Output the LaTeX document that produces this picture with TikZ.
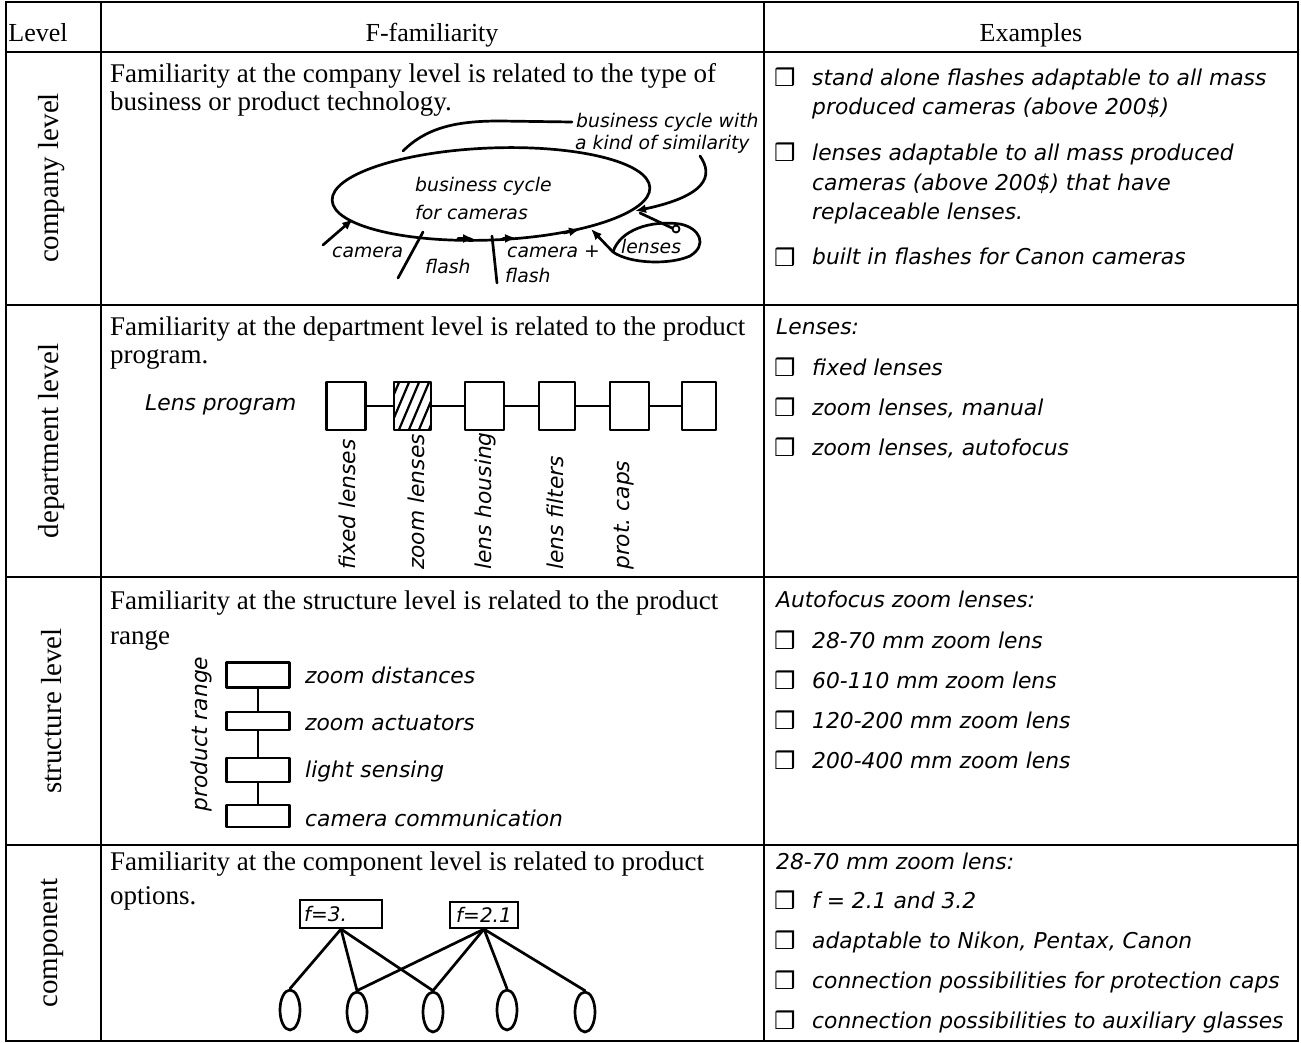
\documentclass[tikz,border=0pt]{standalone}
\usepackage{fontspec}
\setmainfont{Liberation Serif}
\newfontfamily\hwfont{DejaVu Sans}
\newfontfamily\symfont{DejaVu Sans}
\usetikzlibrary{arrows.meta,shapes.geometric}
\begin{document}
\begin{tikzpicture}[x=1pt,y=-1pt,
  tline/.style={line width=1.6pt},
  tnr/.style={font=\fontsize{27}{28}\selectfont, anchor=base west, inner sep=0pt},
  hdr/.style={font=\fontsize{26}{28}\selectfont, anchor=base, inner sep=0pt},
  lvl/.style={font=\fontsize{29}{30}\selectfont, rotate=90, inner sep=0pt},
  hw/.style={font=\hwfont\itshape\fontsize{21.8}{24}\selectfont, anchor=base west, inner sep=0pt},
  hws/.style={font=\hwfont\itshape\fontsize{18.8}{20}\selectfont, anchor=base west, inner sep=0pt},
  hwr/.style={font=\hwfont\itshape\fontsize{21.8}{24}\selectfont, rotate=90, anchor=west, inner sep=0pt},
  cbx/.style={font=\symfont\fontsize{24}{24}\selectfont, anchor=base west, inner sep=0pt},
  sk/.style={line width=2.7pt, line cap=round, line join=round},
  arr/.style={sk, -{Latex[length=11pt,width=9pt]}},
  pbox/.style={draw, sk, inner sep=0pt},
  fbox/.style={draw, line width=2.2pt, font=\hwfont\itshape\fontsize{20}{22}\selectfont, inner ysep=0pt},
  oval/.style={draw, sk, ellipse, minimum width=20pt, minimum height=40pt, inner sep=0pt},
]
\useasboundingbox (0,0) rectangle (1301,1043);
% ---------- table ----------
\draw[tline] (6,2) rectangle (1298,1041);
\draw[tline] (101,2) -- (101,1041);
\draw[tline] (764,2) -- (764,1041);
\draw[line width=2.4pt] (6,52) -- (1298,52);
\draw[tline] (6,305) -- (1298,305);
\draw[tline] (6,577) -- (1298,577);
\draw[tline] (6,845) -- (1298,845);
% header
\node[hdr] (hL) at (38,42) {Level};
\node[hdr] (hF) at (432,42) {F-familiarity};
\node[hdr] (hE) at (1031,42) {Examples};
% level labels
\node[lvl] (l1) at (52,178) {company level};
\node[lvl] (l2) at (52,441) {department level};
\node[lvl] (l3) at (52,711) {structure level};
\node[lvl] (l4) at (52,943) {component};
% ---------- row 1 ----------
\node[tnr] (f1a) at (110,83) {Familiarity at the company level is related to the type of};
\node[tnr] (f1b) at (110,111) {business or product technology.};
\draw[sk, rotate around={2.3:(491,194)}] (491,194) ellipse [x radius=159pt, y radius=46pt];
\node[hws] (bc1) at (415,192) {business cycle};
\node[hws] (bc2) at (415,220) {for cameras};
\node[hws] (bk1) at (576,128) {business cycle with};
\node[hws] (bk2) at (575,150) {a kind of similarity};
\draw[sk] (403,151) .. controls (428,126) and (460,121) .. (500,121) -- (572,122);
\draw[arr] (700,156) .. controls (714,176) and (706,196) .. (635,211);
\node[hws] (t1) at (332,258) {camera};
\node[hws] (t2) at (425,273) {flash};
\node[hws] (t3) at (507,258) {camera +};
\node[hws] (t4) at (505,282) {flash};
\node[hws] (t5) at (621,253) {lenses};
\draw[arr] (323,245) -- (353,219);
\draw[sk] (398,278) -- (423,232);
\draw[sk] (497,283) -- (492,236);
\draw[arr] (613,252) -- (591,229);
\draw[sk] (613,252) .. controls (620,230) and (650,220) .. (680,224)
   .. controls (700,228) and (708,245) .. (690,256)
   .. controls (670,265) and (630,264) .. (613,252);
\draw[sk] (640,213) -- (672,228);
\draw[line width=1.8pt] (676,229) circle (3.5pt);
\draw[arr] (458,238.5) -- (474,238.5);
\draw[arr] (503,238.5) -- (516,238);
\draw[arr] (564,233) -- (580,229.3);
% examples row 1
\node[cbx] (k11) at (774,87) {❒};
\node[hw] (e11a) at (812,86) {stand alone flashes adaptable to all mass};
\node[hw] (e11b) at (812,115) {produced cameras (above 200\$)};
\node[cbx] (k12) at (774,162) {❒};
\node[hw] (e12a) at (812,161) {lenses adaptable to all mass produced};
\node[hw] (e12b) at (812,191) {cameras (above 200\$) that have};
\node[hw] (e12c) at (812,219) {replaceable lenses.};
\node[cbx] (k13) at (774,266) {❒};
\node[hw] (e13a) at (812,265) {built in flashes for Canon cameras};
% ---------- row 2 ----------
\node[tnr] (f2a) at (110,335) {Familiarity at the department level is related to the product};
\node[tnr] (f2b) at (110,363) {program.};
\node[hw] (lp) at (145,410) {Lens program};
\node[pbox, minimum width=39pt, minimum height=48pt] (b1) at (346,406) {};
\node[pbox, minimum width=37pt, minimum height=48pt] (b2) at (412.5,406) {};
\node[pbox, minimum width=39pt, minimum height=48pt] (b3) at (484.5,406) {};
\node[pbox, minimum width=36pt, minimum height=48pt] (b4) at (557,406) {};
\node[pbox, minimum width=39pt, minimum height=48pt] (b5) at (629.5,406) {};
\node[pbox, minimum width=34pt, minimum height=48pt] (b6) at (699,406) {};
\begin{scope}
\clip (394,382) rectangle (431,430);
\foreach \i in {0,...,5} \draw[line width=2.2pt] (378+10*\i,432) -- (400+10*\i,380);
\end{scope}
\draw[sk] (b1) -- (b2);
\draw[sk] (b2) -- (b3);
\draw[sk] (b3) -- (b4);
\draw[sk] (b4) -- (b5);
\draw[sk] (b5) -- (b6);
\node[hwr] (r1) at (347,570) {fixed lenses};
\node[hwr] (r2) at (416,570) {zoom lenses};
\node[hwr] (r3) at (485,570) {lens housing};
\node[hwr] (r4) at (555,570) {lens filters};
\node[hwr] (r5) at (624,570) {prot.\ caps};
% examples row 2
\node[hw] (e20) at (776,334) {Lenses:};
\node[cbx] (k21) at (774,376) {❒};
\node[hw] (e21) at (812,375) {fixed lenses};
\node[cbx] (k22) at (774,416) {❒};
\node[hw] (e22) at (812,415) {zoom lenses, manual};
\node[cbx] (k23) at (774,456) {❒};
\node[hw] (e23) at (812,455) {zoom lenses, autofocus};
% ---------- row 3 ----------
\node[tnr] (f3a) at (110,609) {Familiarity at the structure level is related to the product};
\node[tnr] (f3b) at (110,644) {range};
\node[pbox, minimum width=63pt, minimum height=25pt] (s1) at (258,675) {};
\node[pbox, minimum width=63pt, minimum height=18pt] (s2) at (258,721) {};
\node[pbox, minimum width=63pt, minimum height=24pt] (s3) at (258,770) {};
\node[pbox, minimum width=63pt, minimum height=22pt] (s4) at (258,816) {};
\draw[sk] (s1) -- (s2);
\draw[sk] (s2) -- (s3);
\draw[sk] (s3) -- (s4);
\node[hw, rotate=90, anchor=center] (pr) at (201,734) {product range};
\node[hw] (sl1) at (305,683) {zoom distances};
\node[hw] (sl2) at (305,730) {zoom actuators};
\node[hw] (sl3) at (305,777) {light sensing};
\node[hw] (sl4) at (305,826) {camera communication};
% examples row 3
\node[hw] (e30) at (776,607) {Autofocus zoom lenses:};
\node[cbx] (k31) at (774,649) {❒};
\node[hw] (e31) at (812,648) {28-70 mm zoom lens};
\node[cbx] (k32) at (774,689) {❒};
\node[hw] (e32) at (812,688) {60-110 mm zoom lens};
\node[cbx] (k33) at (774,729) {❒};
\node[hw] (e33) at (812,728) {120-200 mm zoom lens};
\node[cbx] (k34) at (774,769) {❒};
\node[hw] (e34) at (812,768) {200-400 mm zoom lens};
% ---------- row 4 ----------
\node[tnr] (f4a) at (110,870) {Familiarity at the component level is related to product};
\node[tnr] (f4b) at (110,904) {options.};
\node[fbox, minimum height=28pt, text width=74pt, inner xsep=4pt, align=left] (c1) at (341,914) {f=3.};
\node[fbox, minimum height=26pt, text width=64pt, inner xsep=2pt, align=center] (c2) at (484,915) {f=2.1};
\node[oval] (o1) at (290,1010) {};
\node[oval] (o2) at (357,1012) {};
\node[oval] (o3) at (433,1012) {};
\node[oval] (o4) at (507,1010) {};
\node[oval] (o5) at (585,1012) {};
\draw[sk] (c1.south) -- (o1.north);
\draw[sk] (c1.south) -- (o2.north);
\draw[sk] (c1.south) -- (o3.north);
\draw[sk] (c2.south) -- (o2.north);
\draw[sk] (c2.south) -- (o3.north);
\draw[sk] (c2.south) -- (o4.north);
\draw[sk] (c2.south) -- (o5.north);
% examples row 4
\node[hw] (e40) at (776,869) {28-70 mm zoom lens:};
\node[cbx] (k41) at (774,909) {❒};
\node[hw] (e41) at (812,908) {f = 2.1 and 3.2};
\node[cbx] (k42) at (774,949) {❒};
\node[hw] (e42) at (812,948) {adaptable to Nikon, Pentax, Canon};
\node[cbx] (k43) at (774,989) {❒};
\node[hw] (e43) at (812,988) {connection possibilities for protection caps};
\node[cbx] (k44) at (774,1029) {❒};
\node[hw] (e44) at (812,1028) {connection possibilities to auxiliary glasses};
\end{tikzpicture}
\end{document}
